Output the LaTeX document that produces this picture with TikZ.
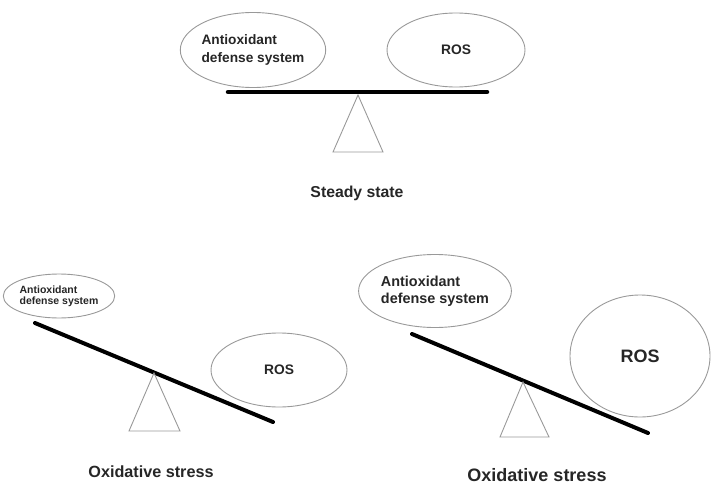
\documentclass[tikz,border=0pt]{standalone}
\usepackage{fontspec}
\setmainfont{Liberation Sans}
\usetikzlibrary{shapes.geometric, positioning}
\tikzset{
    weight/.style={draw=gray!80, ellipse, line width=0.9pt, inner sep=0pt, align=left, text=black!85},
    beam/.style={line width=4.5pt, line cap=round},
    pivot/.style={draw=gray!80, line width=0.9pt},
    caption/.style={text=black!85} }
\newcommand{\sz}[2]{\bfseries\fontsize{#1}{#2}\selectfont}

\begin{document}
\begin{tikzpicture}[x=1pt, y=-1pt]
			\useasboundingbox (0,0) rectangle (711,484);
			% ---- steady state
			\node[weight, minimum width=137, minimum height=75, font=\sz{13.7}{18}] (aox) at (253,50) {Antioxidant\\defense system};
			\node[weight, minimum width=138, minimum height=74, font=\sz{13.8}{17}] (ros) at (456,50) {ROS};
			\coordinate (bl) at (228,92);
			\coordinate (br) at (487,92);
			\coordinate (tip) at (358,95);
			\draw[beam] (bl) -- (br);
			\draw[pivot] (tip) -- ++(-25,57) -- ++(50,0) -- cycle;
			\node[caption, font=\sz{15.8}{19}] (steady) at (357,193) {Steady state};
			% ---- oxidative stress, left
			\node[weight, minimum width=94, minimum height=44, font=\sz{10.5}{11.3}] (aoxL) at (59,296) {Antioxidant\\defense system};
			\node[weight, minimum width=136, minimum height=74, font=\sz{13.8}{17}] (rosL) at (279,370) {ROS};
			\coordinate (blL) at (35,323);
			\coordinate (brL) at (273,422);
			\coordinate (tipL) at (154,373);
			\draw[beam, line width=4pt] (blL) -- (brL);
			\draw[pivot] (tipL) -- ++(-25,58) -- ++(51,0) -- cycle;
			\node[caption, font=\sz{16.2}{19}] (stressL) at (151,472) {Oxidative stress};
			% ---- oxidative stress, right
			\node[weight, minimum width=137, minimum height=73, font=\sz{14.4}{17.3}] (aoxR) at (435,291) {Antioxidant\\defense system};
			\node[weight, minimum width=140, minimum height=122, font=\sz{18}{20}] (rosR) at (640,356) {ROS};
			\coordinate (blR) at (412,334);
			\coordinate (brR) at (648,433);
			\coordinate (tipR) at (523,382);
			\draw[beam, line width=4pt] (blR) -- (brR);
			\draw[pivot] (tipR) -- ++(-23,55) -- ++(49,0) -- cycle;
			\node[caption, font=\sz{18}{21}] (stressR) at (537,475) {Oxidative stress};
		\end{tikzpicture}
\end{document}
